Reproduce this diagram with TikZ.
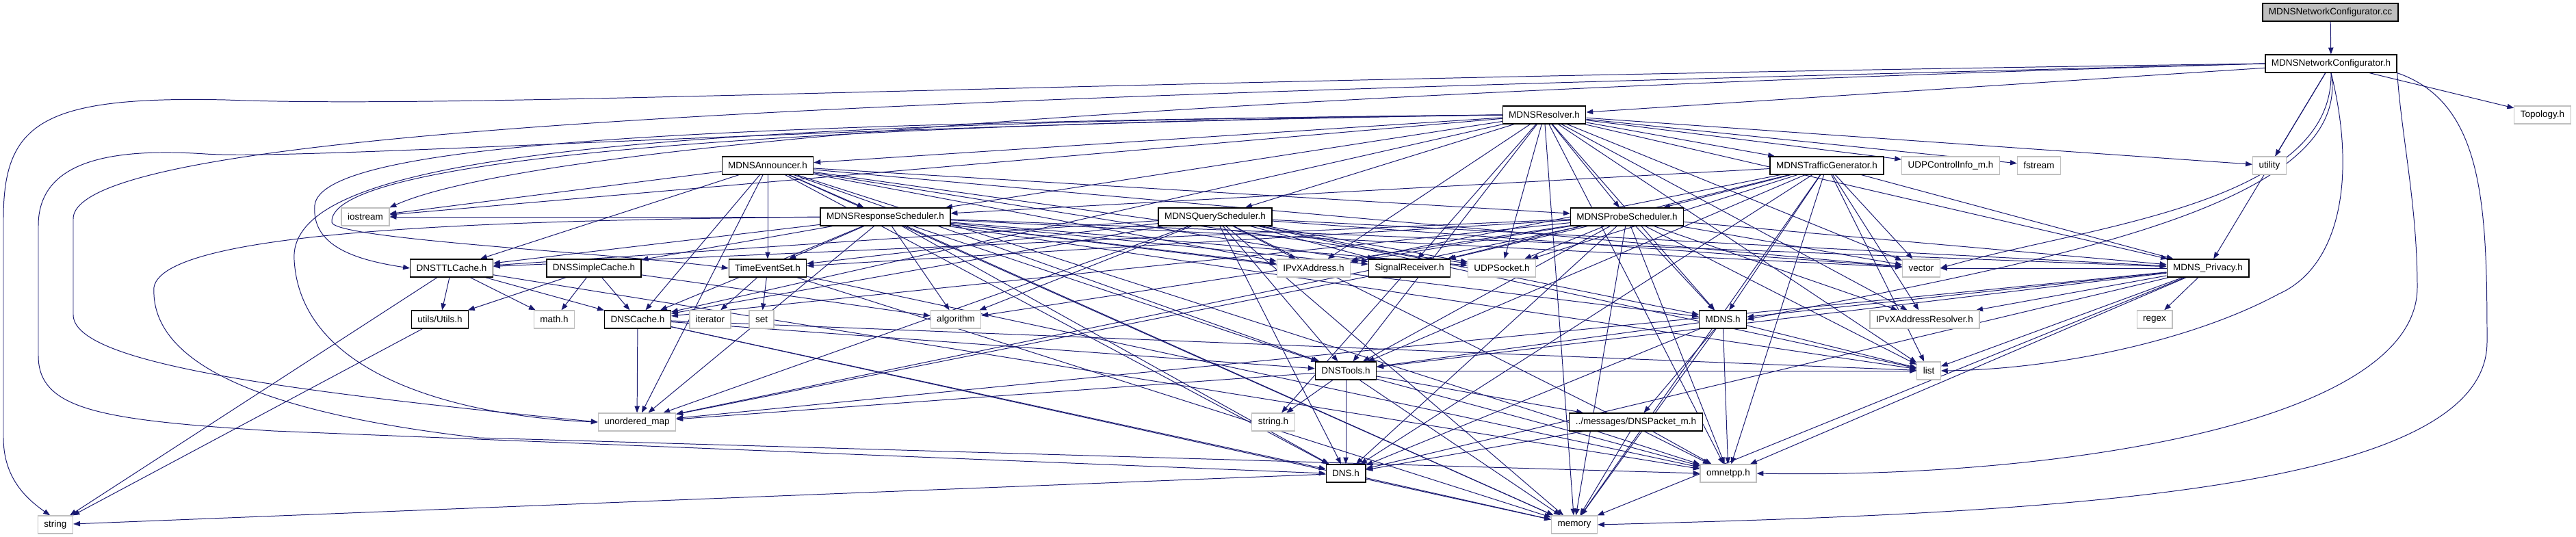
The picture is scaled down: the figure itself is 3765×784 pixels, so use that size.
\documentclass[tikz,border=0pt]{standalone}
\usepackage{fontspec}
\setmainfont{Liberation Sans}
\usetikzlibrary{arrows.meta,backgrounds}
\definecolor{edgeblue}{RGB}{25,25,112}
\definecolor{sysgray}{RGB}{191,191,191}
\definecolor{rootgray}{RGB}{191,191,191}

\tikzset{
  filebox/.style={draw=black, fill=white, line width=0.35pt,
    minimum height=0.26cm, inner xsep=0.09cm, inner ysep=0pt,
    font=\fontsize{3.84pt}{4.6pt}\selectfont},
  sysbox/.style={filebox, draw=sysgray},
  rootbox/.style={filebox, fill=rootgray},
  dep/.style={draw=edgeblue, line width=0.28pt,
    -{Triangle[length=2.8pt,width=2.1pt]}}
}

\begin{document}
\begin{tikzpicture}[x=0.01cm, y=-0.01cm]

\useasboundingbox (0,0) rectangle (3765,784);

% Top rows
\node[rootbox] (cc)    at (3406,18)  {MDNSNetworkConfigurator.cc};
\node[filebox] (nch)   at (3407,93)  {MDNSNetworkConfigurator.h};
\node[filebox] (res)   at (2257,168) {MDNSResolver.h};
\node[sysbox]  (topo)  at (3716,168) {Topology.h};

\node[filebox] (ann)   at (1122,242) {MDNSAnnouncer.h};
\node[filebox] (tgen)  at (2670,242) {MDNSTrafficGenerator.h};
\node[sysbox]  (udpci) at (2851,242) {UDPControlInfo\_m.h};
\node[sysbox]  (fstr)  at (2980,242) {fstream};
\node[sysbox]  (util)  at (3317,242) {utility};

% Schedulers
\node[sysbox]  (iostr) at (534,317)  {iostream};
\node[filebox] (rsch)  at (1294,317) {MDNSResponseScheduler.h};
\node[filebox] (qsch)  at (1776,317) {MDNSQueryScheduler.h};
\node[filebox] (psch)  at (2378,317) {MDNSProbeScheduler.h};

% Caches and helpers
\node[filebox] (ttl)    at (660,392)  {DNSTTLCache.h};
\node[filebox] (simple) at (868,392)  {DNSSimpleCache.h};
\node[filebox] (tes)    at (1122,392) {TimeEventSet.h};
\node[sysbox]  (ipvx)   at (1920,392) {IPvXAddress.h};
\node[filebox] (sig)    at (2060,392) {SignalReceiver.h};
\node[sysbox]  (udps)   at (2195,392) {UDPSocket.h};
\node[sysbox]  (vec)    at (2808,392) {vector};
\node[filebox] (priv)   at (3227,392) {MDNS\_Privacy.h};

\node[filebox] (utils) at (643,467)  {utils/Utils.h};
\node[sysbox]  (math)  at (810,467)  {math.h};
\node[filebox] (cache) at (932,467)  {DNSCache.h};
\node[sysbox]  (iter)  at (1038,467) {iterator};
\node[sysbox]  (set)   at (1113,467) {set};
\node[sysbox]  (algo)  at (1397,467) {algorithm};
\node[filebox] (mdns)  at (2518,467) {MDNS.h};
\node[sysbox]  (ipvxr) at (2813,467) {IPvXAddressResolver.h};
\node[sysbox]  (regex) at (3149,467) {regex};

% Bottom rows
\node[filebox] (tools) at (1967,542) {DNSTools.h};
\node[sysbox]  (list)  at (2819,542) {list};
\node[sysbox]  (umap)  at (931,617)  {unordered\_map};
\node[sysbox]  (strh)  at (1861,617) {string.h};
\node[filebox] (pkt)   at (2391,617) {../messages/DNSPacket\_m.h};
\node[filebox] (dns)   at (1967,692) {DNS.h};
\node[sysbox]  (omnet) at (2526,692) {omnetpp.h};
\node[sysbox]  (str)   at (81,767)   {string};
\node[sysbox]  (mem)   at (2301,767) {memory};

\begin{pgfonlayer}{background}

\draw[dep] (cc) -- (nch);

% MDNSNetworkConfigurator.h
\foreach \t in {res,topo,util,priv}
  \draw[dep] (nch) -- (\t);
\draw[dep] (nch.west) .. controls (1500,118) and (700,160) .. (330,146)
  .. controls (60,140) and (5,180) .. (5,320) -- (5,640)
  .. controls (5,700) and (40,730) .. (str.120);
\draw[dep] (nch.west) .. controls (1500,140) and (107,175) .. (107,320)
  -- (107,460) .. controls (107,530) and (400,570) .. (umap.west);
\draw[dep] (nch.west) .. controls (2000,130) and (800,200) .. (iostr.north east);
\draw[dep] (nch.south) .. controls (3410,300) and (3050,330) .. (vec.east);
\draw[dep] (nch.south) .. controls (3440,300) and (3000,380) .. (mdns.east);
\draw[dep] (nch.south) .. controls (3445,260) and (3420,390) .. (3330,430)
  .. controls (3200,500) and (3000,540) .. (list.east);
\draw[dep] (nch.south east) .. controls (3510,200) and (3533,300) .. (3533,420)
  .. controls (3533,620) and (3000,700) .. (omnet.east);
\draw[dep] (nch.south east) .. controls (3630,150) and (3635,300) .. (3635,500)
  .. controls (3635,720) and (3000,750) .. (mem.east);

% MDNSResolver.h
\foreach \t in {ann,rsch,qsch,psch,tgen,udpci,fstr,util,iostr,vec,priv,mdns,
                sig,udps,ipvx,tools,list,omnet,mem,ipvxr,cache}
  \draw[dep] (res) -- (\t);
\draw[dep] (res.west) .. controls (1200,182) and (450,235) .. (300,225)
  .. controls (150,215) and (56,240) .. (56,330) -- (56,520)
  .. controls (56,600) and (150,614) .. (400,630) -- (dns.west);
\draw[dep] (res.west) .. controls (1000,180) and (470,210) .. (460,300)
  .. controls (455,360) and (520,380) .. (ttl.west);
\draw[dep] (res.west) .. controls (900,185) and (480,250) .. (485,325)
  .. controls (490,350) and (900,370) .. (tes.west);
\draw[dep] (res.west) .. controls (900,180) and (420,230) .. (430,380)
  .. controls (440,560) and (700,610) .. (umap.west);

% MDNSAnnouncer.h
\foreach \t in {iostr,rsch,psch,tes,ttl,cache,ipvx,sig,udps,vec,tools,dns,
                umap,omnet,mem}
  \draw[dep] (ann) -- (\t);

% Schedulers
\foreach \t in {ttl,simple,cache,tes,ipvx,sig,udps,vec,algo,mdns,tools,dns,
                umap,mem,priv,list,iostr}
  \draw[dep] (rsch) -- (\t);
\draw[dep] (rsch.west) .. controls (800,322) and (240,330) .. (225,420)
  .. controls (220,520) and (350,600) .. (700,640) -- (omnet.west);
\foreach \t in {ttl,cache,tes,ipvx,sig,udps,vec,algo,mdns,tools,dns,umap,
                omnet,mem,priv,list}
  \draw[dep] (qsch) -- (\t);
\foreach \t in {ttl,cache,tes,ipvx,sig,udps,vec,algo,mdns,tools,dns,umap,
                omnet,mem,priv,list,ipvxr}
  \draw[dep] (psch) -- (\t);
\foreach \t in {rsch,psch,ipvx,sig,udps,vec,priv,mdns,tools,dns,omnet,mem,
                list,ipvxr}
  \draw[dep] (tgen) -- (\t);

% Caches and helpers
\foreach \t in {utils,math,cache,str,omnet}
  \draw[dep] (ttl) -- (\t);
\foreach \t in {utils,math,cache,algo}
  \draw[dep] (simple) -- (\t);
\foreach \t in {iter,set,omnet,mem}
  \draw[dep] (tes) -- (\t);
\foreach \t in {strh,umap}
  \draw[dep] (sig) -- (\t);
\foreach \t in {umap,tools,dns,mem,list}
  \draw[dep] (cache) -- (\t);
\draw[dep] (utils) -- (str);
\foreach \t in {mdns,ipvxr,regex,list,tools,dns,omnet,mem,umap,vec}
  \draw[dep] (priv) -- (\t);
\foreach \t in {tools,dns,list,omnet,mem,pkt}
  \draw[dep] (mdns) -- (\t);
\foreach \t in {dns,strh,mem,pkt,omnet,umap,list}
  \draw[dep] (tools) -- (\t);
\foreach \t in {dns,mem,omnet}
  \draw[dep] (pkt) -- (\t);
\foreach \t in {mem,str}
  \draw[dep] (dns) -- (\t);

\end{pgfonlayer}

\end{tikzpicture}
\end{document}
